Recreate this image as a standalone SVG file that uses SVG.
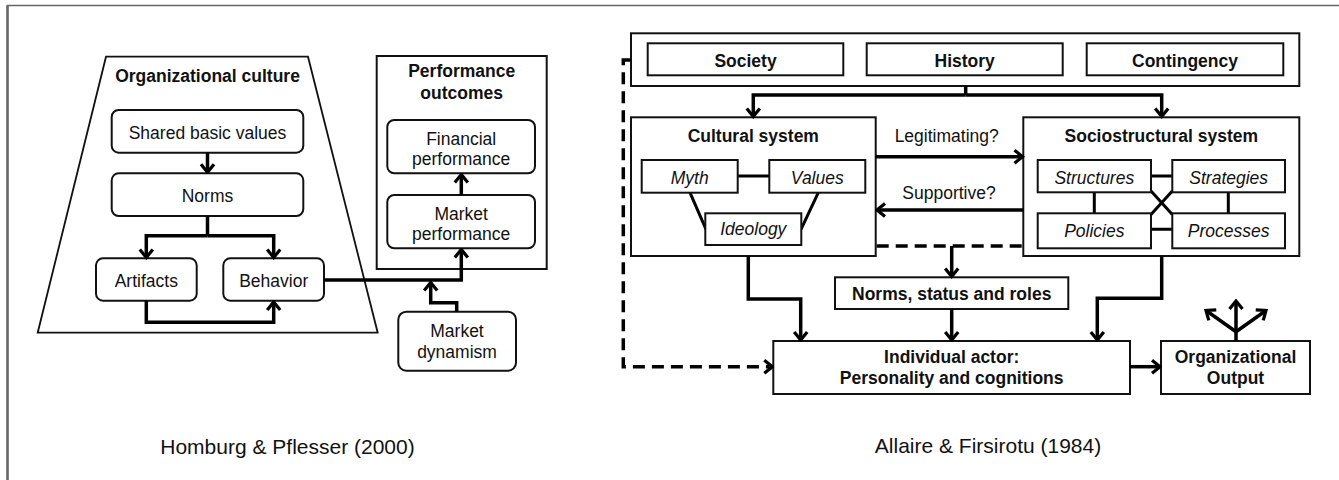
<svg xmlns="http://www.w3.org/2000/svg" width="1339" height="480" viewBox="0 0 1339 480">
  <defs>
    <marker id="arrow" markerUnits="userSpaceOnUse" viewBox="-12 -9 14 18" refX="0" refY="0" markerWidth="14" markerHeight="18" orient="auto">
      <path d="M-8,-6.5 L0,0 L-8,6.5" fill="none" stroke="#000" stroke-width="3.2"/>
    </marker>
  </defs>
  <style>
    text { font-family: "Liberation Sans", Arial, sans-serif; font-size: 17.5px; fill: #111; text-anchor: middle; }
    .b { font-weight: bold; }
    .i { font-style: italic; }
    .cap { font-size: 21px; }
    .box { fill: #fff; stroke: #111; stroke-width: 2; }
    .link { fill: none; stroke: #000; stroke-width: 3.5; }
    .thin { fill: none; stroke: #000; stroke-width: 3; }
    .arr { marker-end: url(#arrow); }
    .dash { fill: none; stroke: #000; stroke-width: 3.5; stroke-dasharray: 12 7; }
  </style>

  <rect width="1339" height="480" fill="#fff"/>
  <!-- frame -->
  <path d="M7.5,480 V5.5 H1339" fill="none" stroke="#666" stroke-width="1.5"/>
  <path d="M7.5,480 V5.5" fill="none" stroke="#666" stroke-width="2.5"/>

  <!-- Homburg & Pflesser model -->
  <g id="org-culture">
    <polygon points="106,56.7 308,56.7 377.7,332.7 37.7,332.7" fill="#fff" stroke="#111" stroke-width="1.8"/>
    <text class="b" x="207.5" y="82">Organizational culture</text>
  </g>
  <g id="shared-values">
    <rect class="box" x="111.7" y="110" width="191.6" height="42.7" rx="7"/>
    <text x="207.5" y="138.5">Shared basic values</text>
  </g>
  <g id="norms">
    <rect class="box" x="111.7" y="173.3" width="191.6" height="42.7" rx="7"/>
    <text x="207.5" y="201.5">Norms</text>
  </g>
  <g id="artifacts">
    <rect class="box" x="96" y="258.3" width="100.7" height="42.4" rx="7"/>
    <text x="146.3" y="287">Artifacts</text>
  </g>
  <g id="behavior">
    <rect class="box" x="223.3" y="258.3" width="100.7" height="42.4" rx="7"/>
    <text x="273.7" y="287">Behavior</text>
  </g>
  <g id="performance-outcomes">
    <rect class="box" x="376.7" y="56" width="170" height="213"/>
    <text class="b" x="461.7" y="77.3">Performance</text>
    <text class="b" x="461.7" y="99.3">outcomes</text>
  </g>
  <g id="financial-performance">
    <rect class="box" x="387.3" y="120" width="147.7" height="53.3" rx="7"/>
    <text x="461.2" y="145">Financial</text>
    <text x="461.2" y="165">performance</text>
  </g>
  <g id="market-performance">
    <rect class="box" x="387.3" y="195" width="147.7" height="53.3" rx="7"/>
    <text x="461.2" y="220">Market</text>
    <text x="461.2" y="239.5">performance</text>
  </g>
  <g id="market-dynamism">
    <rect class="box" x="398.3" y="311.7" width="117.7" height="59" rx="8"/>
    <text x="457" y="337.3">Market</text>
    <text x="457" y="358.3">dynamism</text>
  </g>
  <text class="cap" x="287.5" y="454">Homburg &amp; Pflesser (2000)</text>

  <!-- Allaire & Firsirotu model -->
  <g id="context">
    <rect class="box" x="631" y="33.3" width="668.3" height="52.7"/>
  </g>
  <g id="society">
    <rect class="box" x="647.7" y="43.3" width="195.6" height="32"/>
    <text class="b" x="745.5" y="66.5">Society</text>
  </g>
  <g id="history">
    <rect class="box" x="866.7" y="43.3" width="196" height="32"/>
    <text class="b" x="964.7" y="66.5">History</text>
  </g>
  <g id="contingency">
    <rect class="box" x="1086.7" y="43.3" width="196.6" height="32"/>
    <text class="b" x="1185" y="66.5">Contingency</text>
  </g>
  <g id="cultural-system">
    <rect class="box" x="631" y="117.3" width="244.7" height="138.7"/>
    <text class="b" x="753.3" y="141.7">Cultural system</text>
    <path class="thin" d="M737.7,176 H769.3 M690,192.7 L706,229.3 M818.3,192.7 L801,229.3"/>
  </g>
  <g id="myth">
    <rect class="box" x="641.7" y="160" width="96" height="32.7"/>
    <text class="i" x="689.7" y="183.5">Myth</text>
  </g>
  <g id="values">
    <rect class="box" x="769.3" y="160" width="96" height="32.7"/>
    <text class="i" x="817.3" y="183.5">Values</text>
  </g>
  <g id="ideology">
    <rect class="box" x="705.3" y="213.3" width="96" height="31.7"/>
    <text class="i" x="753.3" y="235">Ideology</text>
  </g>
  <g id="sociostructural-system">
    <rect class="box" x="1023.3" y="117.3" width="276" height="138.7"/>
    <text class="b" x="1161.3" y="141.7">Sociostructural system</text>
    <path class="thin" d="M1151,176 H1172.3 M1151,229.3 H1172.3 M1094.3,192.3 V213.3 M1228.3,192.3 V213.3 M1151,191 L1172.3,214.5 M1172.3,191 L1151,214.5"/>
  </g>
  <g id="structures">
    <rect class="box" x="1037.7" y="160" width="113.3" height="32.3"/>
    <text class="i" x="1094.3" y="183.5">Structures</text>
  </g>
  <g id="strategies">
    <rect class="box" x="1172.3" y="160" width="112.7" height="32.3"/>
    <text class="i" x="1228.7" y="183.5">Strategies</text>
  </g>
  <g id="policies">
    <rect class="box" x="1037.7" y="213.3" width="113.3" height="35"/>
    <text class="i" x="1094.3" y="237">Policies</text>
  </g>
  <g id="processes">
    <rect class="box" x="1172.3" y="213.3" width="112.7" height="35"/>
    <text class="i" x="1228.7" y="237">Processes</text>
  </g>
  <g id="norms-status-roles">
    <rect class="box" x="835" y="277.3" width="233.3" height="31.7"/>
    <text class="b" x="951.7" y="300">Norms, status and roles</text>
  </g>
  <g id="individual-actor">
    <rect class="box" x="773.3" y="341" width="356.7" height="53"/>
    <text class="b" x="951.7" y="362.7">Individual actor:</text>
    <text class="b" x="951.7" y="384">Personality and cognitions</text>
  </g>
  <g id="organizational-output">
    <rect class="box" x="1161" y="341" width="149" height="53"/>
    <text class="b" x="1235.5" y="362.7">Organizational</text>
    <text class="b" x="1235.5" y="384">Output</text>
  </g>
  <text class="cap" x="988" y="452.7">Allaire &amp; Firsirotu (1984)</text>

  <!-- connectors -->
  <g id="connectors">
    <path class="link arr" d="M207.5,152.7 V172.3"/>
    <path class="link" d="M207.5,216 V235.7"/>
    <path class="link arr" d="M207.5,235.7 H146.3 V257.5"/>
    <path class="link arr" d="M207.5,235.7 H273.7 V257.5"/>
    <path class="link arr" d="M146.3,300.7 V322.3 H273.7 V302"/>
    <path class="link arr" d="M324,280 H461.3 V249.5"/>
    <path class="link arr" d="M456.7,311.7 V302.7 H430.7 V282.5"/>
    <path class="link arr" d="M461.3,195 V174.5"/>

    <path class="link" d="M965.7,86 V95"/>
    <path class="link arr" d="M965.7,95 H753.3 V116.5"/>
    <path class="link arr" d="M965.7,95 H1161.7 V116.5"/>
    <path class="link arr" d="M875.7,156.7 H1022.5"/>
    <path class="link arr" d="M1023.3,210 H877"/>
    <text x="946.7" y="141.7">Legitimating?</text>
    <text x="949" y="199.3">Supportive?</text>
    <path class="dash" d="M876.7,246 H1022.3"/>
    <path class="link arr" d="M951.7,246 V276.5"/>
    <path class="link arr" d="M951.7,309 V340"/>
    <path class="link arr" d="M748.3,256 V299 H800.7 V340"/>
    <path class="link arr" d="M1161.7,256 V298.3 H1097.3 V340"/>
    <path class="dash arr" d="M630,60 H623.3 V366.7 H772.3"/>
    <path class="link arr" d="M1130,366.7 H1160"/>
    <path class="link arr" d="M1236,341 V301"/>
    <path class="link arr" d="M1236,331.7 L1206,310.5"/>
    <path class="link arr" d="M1236,331.7 L1266,310.5"/>
  </g>
</svg>
